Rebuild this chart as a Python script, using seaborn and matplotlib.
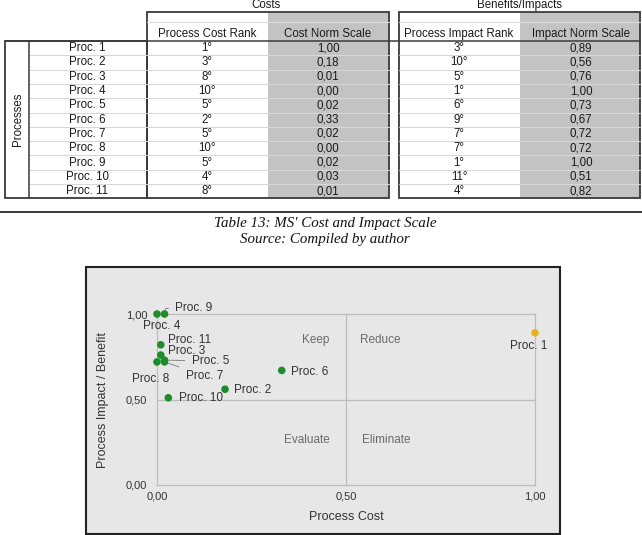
import matplotlib
matplotlib.use("Agg")
import matplotlib.pyplot as plt
from matplotlib.patches import Rectangle
import seaborn as sns
import pandas as pd

# table / chart data
procs = ["Proc. 1", "Proc. 2", "Proc. 3", "Proc. 4", "Proc. 5", "Proc. 6",
         "Proc. 7", "Proc. 8", "Proc. 9", "Proc. 10", "Proc. 11"]
cost_rank = [1, 3, 8, 10, 5, 2, 5, 10, 5, 4, 8]
cost_norm = [1.00, 0.18, 0.01, 0.00, 0.02, 0.33, 0.02, 0.00, 0.02, 0.03, 0.01]
impact_rank = [3, 10, 5, 1, 6, 9, 7, 7, 1, 11, 4]
impact_norm = [0.89, 0.56, 0.76, 1.00, 0.73, 0.67, 0.72, 0.72, 1.00, 0.51, 0.82]
quadrants = ["Keep", "Reduce", "Evaluate", "Eliminate"]
axis_ticks = [0.0, 0.5, 1.0]

sns.set_style("white")
plt.rcParams["font.family"] = ["Liberation Sans", "DejaVu Sans"]

fig = plt.figure(figsize=(6.42, 5.35), dpi=100)

# background layer in pixel units for table + frames
bg = fig.add_axes([0, 0, 1, 1], zorder=0)
bg.set_xlim(0, 642)
bg.set_ylim(535, 0)
bg.axis("off")

GRAY = "#c3c3c3"
EDGE = "#3a3a3a"
TXT = "#1a1a1a"
fs = 8.3

y0, rh = 41, 14.3
n = len(procs)
y_end = y0 + n * rh

# gray norm-scale columns
bg.add_patch(Rectangle((268, 12), 121, y_end - 12, facecolor=GRAY, edgecolor="none"))
bg.add_patch(Rectangle((520, 12), 120, y_end - 12, facecolor=GRAY, edgecolor="none"))

# row separators
for k in range(1, n):
    yy = y0 + k * rh
    bg.plot([29, 268], [yy, yy], color="#d6d6d6", lw=0.7)
    bg.plot([268, 389], [yy, yy], color="#d9d9d9", lw=0.7)
    bg.plot([399, 520], [yy, yy], color="#d6d6d6", lw=0.7)
    bg.plot([520, 640], [yy, yy], color="#d9d9d9", lw=0.7)

# thin lines inside header
bg.plot([147, 389], [22, 22], color="#dcdcdc", lw=0.8)
bg.plot([399, 640], [22, 22], color="#dcdcdc", lw=0.8)

# boxes
for (x, y, w, h) in [(5, y0, 142, y_end - y0), (147, 12, 242, y_end - 12),
                     (399, 12, 241, y_end - 12)]:
    bg.add_patch(Rectangle((x, y), w, h, facecolor="none", edgecolor=EDGE, lw=1.3))
bg.plot([29, 29], [y0, y_end], color=EDGE, lw=1.1)
bg.plot([5, 640], [y0, y0], color=EDGE, lw=1.1)

bg.text(266, 5, "Costs", ha="center", va="center", fontsize=fs, color=TXT)
bg.text(520, 5, "Benefits/Impacts", ha="center", va="center", fontsize=fs, color=TXT)
for cx, lab in [(207, "Process Cost Rank"), (328, "Cost Norm Scale"),
                (459, "Process Impact Rank"), (581, "Impact Norm Scale")]:
    bg.text(cx, 34, lab, ha="center", va="center", fontsize=fs, color=TXT)
bg.text(18, (y0 + y_end) / 2, "Processes", rotation=90, ha="center", va="center",
        fontsize=fs, color=TXT)

for i in range(n):
    yc = y0 + (i + 0.5) * rh
    bg.text(87, yc, procs[i], ha="center", va="center", fontsize=fs, color=TXT)
    bg.text(207, yc, f"{cost_rank[i]}°", ha="center", va="center", fontsize=fs, color=TXT)
    bg.text(328, yc, f"{cost_norm[i]:.2f}".replace(".", ","), ha="center", va="center",
            fontsize=fs, color=TXT)
    bg.text(459, yc, f"{impact_rank[i]}°", ha="center", va="center", fontsize=fs, color=TXT)
    bg.text(581, yc, f"{impact_norm[i]:.2f}".replace(".", ","), ha="center", va="center",
            fontsize=fs, color=TXT)

# rule + caption
bg.plot([0, 642], [212, 212], color="#2a2a2a", lw=1.3)
bg.text(325, 223, "Table 13: MS' Cost and Impact Scale", ha="center", va="center",
        fontsize=10.8, style="italic", family="Liberation Serif", color="#111")
bg.text(325, 240, "Source: Compiled by author", ha="center", va="center",
        fontsize=10.8, style="italic", family="Liberation Serif", color="#111")

# chart frame
bg.add_patch(Rectangle((86, 267), 474, 267, facecolor="#e7e7e7", edgecolor="#222", lw=1.5))

# scatter chart
df = pd.DataFrame({"proc": procs, "cost": cost_norm, "impact": impact_norm})
df["quadrant"] = [quadrants[0] if c < 0.5 else quadrants[1] for c in df["cost"]]

ax = fig.add_axes([157 / 642, 1 - 485 / 535, 378 / 642, 171 / 535], zorder=1)
ax.set_facecolor("none")
sns.scatterplot(data=df, x="cost", y="impact", hue="quadrant",
                palette={"Keep": "#1e8c2c", "Reduce": "#e6b21e"},
                s=30, edgecolor="none", legend=False, ax=ax, clip_on=False, zorder=4)
ax.set_xlim(0, 1)
ax.set_ylim(0, 1)

LINE = "#bdbdbd"
for sp in ax.spines.values():
    sp.set_color(LINE)
    sp.set_linewidth(0.9)
ax.axvline(0.5, color=LINE, lw=0.9, zorder=1)
ax.axhline(0.5, color=LINE, lw=0.9, zorder=1)

tick_labels = [f"{t:.2f}".replace(".", ",") for t in axis_ticks]
ax.set_xticks(axis_ticks)
ax.set_xticklabels(tick_labels)
ax.set_yticks(axis_ticks)
ax.set_yticklabels(tick_labels)
ax.tick_params(axis="x", length=0, pad=5, labelsize=8, labelcolor="#333")
ax.tick_params(axis="y", length=0, pad=7, labelsize=8, labelcolor="#333")

ax.set_xlabel("Process Cost", fontsize=9, color="#333")
ax.set_ylabel("Process Impact / Benefit", fontsize=9, color="#333")
ax.xaxis.set_label_coords(0.5, -0.15)
ax.yaxis.set_label_coords(-0.127, 0.5)

# quadrant captions
qc = "#6a6a6a"
ax.text(0.455, 0.848, quadrants[0], ha="right", va="center", fontsize=8.5, color=qc)
ax.text(0.537, 0.848, quadrants[1], ha="left", va="center", fontsize=8.5, color=qc)
ax.text(0.458, 0.263, quadrants[2], ha="right", va="center", fontsize=8.5, color=qc)
ax.text(0.542, 0.263, quadrants[3], ha="left", va="center", fontsize=8.5, color=qc)

# point labels: (x, y, ha, leader connection)
label_pos = {
    "Proc. 1": (0.983, 0.813, "center", None),
    "Proc. 2": (0.204, 0.556, "left", None),
    "Proc. 3": (0.029, 0.784, "left", None),
    "Proc. 4": (0.013, 0.930, "center", None),
    "Proc. 5": (0.093, 0.725, "left", "arc3"),
    "Proc. 6": (0.354, 0.661, "left", None),
    "Proc. 7": (0.077, 0.637, "left", "arc3"),
    "Proc. 8": (-0.017, 0.620, "center", "arc3"),
    "Proc. 9": (0.048, 1.035, "left", "angle,angleA=0,angleB=90,rad=0"),
    "Proc. 10": (0.058, 0.509, "left", None),
    "Proc. 11": (0.029, 0.848, "left", None),
}
for p, c, v in zip(procs, cost_norm, impact_norm):
    tx, ty, ha, conn = label_pos[p]
    arrow = None
    if conn:
        arrow = dict(arrowstyle="-", color="#888", lw=0.7, shrinkA=3, shrinkB=3,
                     connectionstyle=conn)
    ax.annotate(p, xy=(c, v), xytext=(tx, ty), ha=ha, va="center", fontsize=8.5,
                color="#333", arrowprops=arrow, annotation_clip=False, zorder=5)

fig.savefig("out.png", dpi=100)
